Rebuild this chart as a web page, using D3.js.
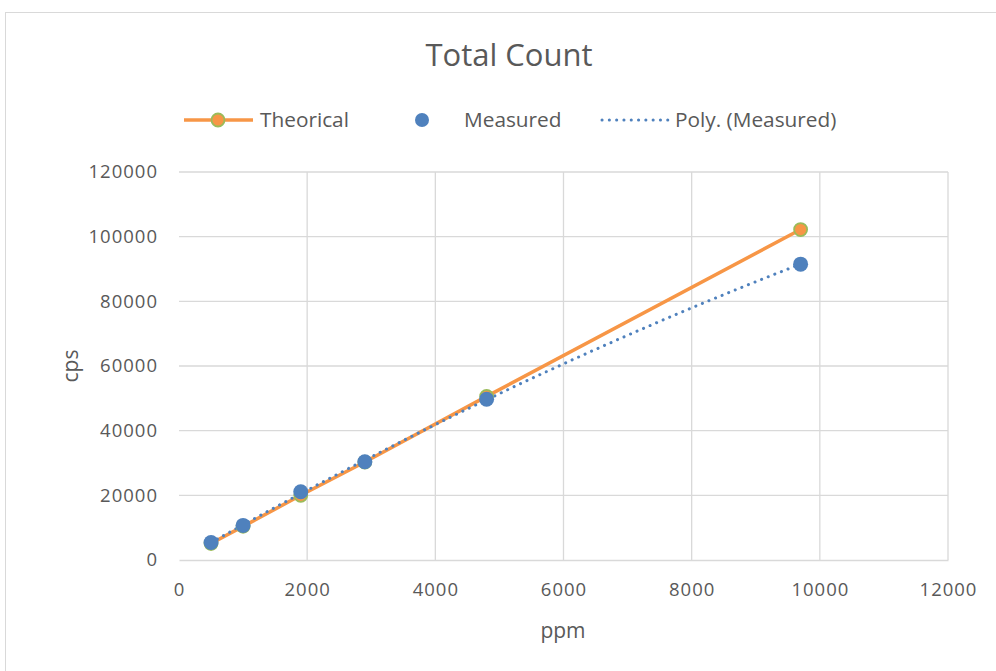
<!DOCTYPE html>
<html><head><meta charset="utf-8">
<script src="https://cdn.jsdelivr.net/npm/d3@7"></script>
<style>
body{margin:0;background:#fff;}
text{font-family:"Open Sans","Noto Sans",sans-serif;fill:#595959;}
</style></head>
<body><svg id="c" width="996" height="671"></svg>
<script>
const ppm = [500, 1000, 1900, 2900, 4800, 9700];
const theorical = [5100, 10400, 20000, 30300, 50600, 102200];
const measured = [5400, 10700, 21100, 30400, 49700, 91500];
const xTicks = [0, 2000, 4000, 6000, 8000, 10000, 12000];
const yTicks = [0, 20000, 40000, 60000, 80000, 100000, 120000];

const svg = d3.select("#c");
svg.append("rect").attr("x",5.5).attr("y",12.5).attr("width",1000).attr("height",700)
  .attr("fill","#fff").attr("stroke","#d9d9d9");

const x = d3.scaleLinear().domain([0,12000]).range([179,948]);
const y = d3.scaleLinear().domain([0,120000]).range([560,172]);

// gridlines
svg.append("g").selectAll("line").data(yTicks.slice(1)).join("line")
  .attr("x1",x(0)).attr("x2",x(12000)).attr("y1",d=>y(d)).attr("y2",d=>y(d))
  .attr("stroke","#d9d9d9").attr("stroke-width",1.3);
svg.append("g").selectAll("line").data(xTicks.slice(1)).join("line")
  .attr("y1",y(0)).attr("y2",y(120000)).attr("x1",d=>x(d)).attr("x2",d=>x(d))
  .attr("stroke","#d9d9d9").attr("stroke-width",1.3);

// axes
const xa = svg.append("g").attr("transform",`translate(0,${y(0)})`)
  .call(d3.axisBottom(x).tickValues(xTicks).tickSize(0).tickPadding(23).tickFormat(d3.format("d")));
xa.select(".domain").attr("stroke","#d9d9d9").attr("stroke-width",1.3);
xa.selectAll("text").attr("font-size",18.5).attr("letter-spacing","1px").style("fill","#595959")
  .style("font-family",'"Open Sans",sans-serif');
const ya = svg.append("g").attr("transform",`translate(${x(0)},0)`)
  .call(d3.axisLeft(y).tickValues(yTicks).tickSize(0).tickPadding(21).tickFormat(d3.format("d")));
ya.select(".domain").remove();
ya.selectAll("text").attr("font-size",18.5).attr("letter-spacing","1px").style("fill","#595959")
  .style("font-family",'"Open Sans",sans-serif');

// axis titles
svg.append("text").attr("x",563).attr("y",638).attr("text-anchor","middle").attr("font-size",21).text("ppm");
svg.append("text").attr("transform","translate(78,366) rotate(-90)").attr("text-anchor","middle").attr("font-size",21).text("cps");

// title
svg.append("text").attr("x",509).attr("y",66).attr("text-anchor","middle").attr("font-size",31).text("Total Count");

// polynomial (order 2) trendline fit of measured
function polyfit2(xs, ys){
  let S=[0,0,0,0,0], T=[0,0,0];
  xs.forEach((xv,i)=>{ for(let k=0;k<5;k++) S[k]+=Math.pow(xv,k); for(let k=0;k<3;k++) T[k]+=ys[i]*Math.pow(xv,k); });
  const A=[[S[0],S[1],S[2],T[0]],[S[1],S[2],S[3],T[1]],[S[2],S[3],S[4],T[2]]];
  for(let i=0;i<3;i++){ for(let j=i+1;j<3;j++){ const f=A[j][i]/A[i][i]; for(let k=i;k<4;k++) A[j][k]-=f*A[i][k]; } }
  const c=[0,0,0];
  for(let i=2;i>=0;i--){ let s=A[i][3]; for(let k=i+1;k<3;k++) s-=A[i][k]*c[k]; c[i]=s/A[i][i]; }
  return c;
}
const coef = polyfit2(ppm, measured);
const trendX = d3.range(ppm[0], ppm[ppm.length-1]+1, 50);
const line = d3.line().x(d=>x(d[0])).y(d=>y(d[1]));

// theorical line
svg.append("path").datum(ppm.map((p,i)=>[p,theorical[i]])).attr("d",line)
  .attr("fill","none").attr("stroke","#f79646").attr("stroke-width",3.5);
// trendline
svg.append("path").datum(trendX.map(t=>[t,coef[0]+coef[1]*t+coef[2]*t*t])).attr("d",line)
  .attr("fill","none").attr("stroke","#4f81bd").attr("stroke-width",3)
  .attr("stroke-dasharray","0.1 7").attr("stroke-linecap","round");
// theorical markers
svg.append("g").selectAll("circle").data(ppm).join("circle")
  .attr("cx",d=>x(d)).attr("cy",(d,i)=>y(theorical[i])).attr("r",6.5)
  .attr("fill","#f79646").attr("stroke","#9bbb59").attr("stroke-width",1.8);
// measured markers
svg.append("g").selectAll("circle").data(ppm).join("circle")
  .attr("cx",d=>x(d)).attr("cy",(d,i)=>y(measured[i])).attr("r",7.5)
  .attr("fill","#4f81bd");

// legend
const lg = svg.append("g");
lg.append("line").attr("x1",184).attr("x2",253).attr("y1",120).attr("y2",120).attr("stroke","#f79646").attr("stroke-width",3.5);
lg.append("circle").attr("cx",218).attr("cy",120).attr("r",6.5).attr("fill","#f79646").attr("stroke","#9bbb59").attr("stroke-width",1.8);
lg.append("text").attr("x",260).attr("y",127).attr("font-size",20.8).text("Theorical");
lg.append("circle").attr("cx",422).attr("cy",120).attr("r",7).attr("fill","#4f81bd");
lg.append("text").attr("x",464).attr("y",127).attr("font-size",20.8).text("Measured");
lg.append("line").attr("x1",602).attr("x2",668).attr("y1",120).attr("y2",120).attr("stroke","#4f81bd").attr("stroke-width",3)
  .attr("stroke-dasharray","0.1 7.2").attr("stroke-linecap","round");
lg.append("text").attr("x",675).attr("y",127).attr("font-size",20.8).text("Poly. (Measured)");
</script></body></html>
